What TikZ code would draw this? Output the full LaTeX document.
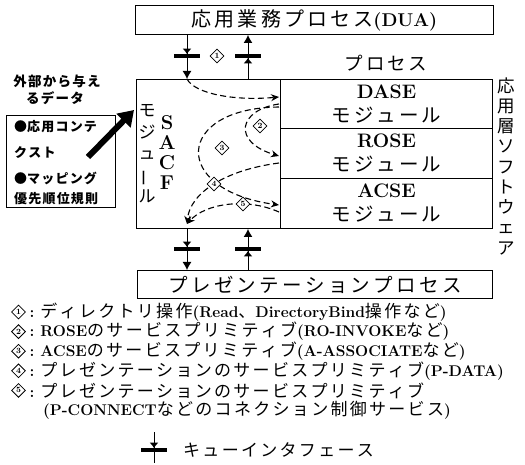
\documentclass[tikz,border=0pt]{standalone}
\usepackage{fontspec}
\usetikzlibrary{shapes.geometric,arrows.meta}
\newfontfamily\jpf{Noto Sans CJK JP}
% extra spacing between Japanese characters
\XeTeXinterchartokenstate=1
\newXeTeXintercharclass\cjkcls
\newcount\cjkcnt
\cjkcnt="3041\relax
\loop\ifnum\cjkcnt<"3100\relax \XeTeXcharclass\cjkcnt=\cjkcls\relax \advance\cjkcnt by 1\relax \repeat
\cjkcnt="4E00\relax
\loop\ifnum\cjkcnt<"A000\relax \XeTeXcharclass\cjkcnt=\cjkcls\relax \advance\cjkcnt by 1\relax \repeat
\newskip\cjkgap
\cjkgap=0pt\relax
\XeTeXinterchartoks\cjkcls\cjkcls={\hskip\cjkgap\relax}
\newcommand\lt[1]{{\normalfont\bfseries\fontsize{15.5}{20}\selectfont #1}}
\newcommand\lts[2]{{\normalfont\bfseries\fontsize{#1}{#1}\selectfont #2}}
\tikzset{
  box/.style={draw, line width=1pt, inner sep=0pt},
  flow/.style={line width=1.1pt, dash pattern=on 6pt off 3.5pt, -{Stealth[length=8pt,width=7pt]}},
  qline/.style={line width=1pt, -{Latex[length=8pt,width=9pt]}},
  qbar/.style={line width=3.8pt},
  qtip/.style={line width=1pt, -{Latex[length=5.5pt,width=9pt]}},
  tag/.style={diamond, draw, line width=0.8pt, fill=white, inner sep=0pt, minimum width=14pt, minimum height=14pt, font=\bfseries\fontsize{8}{8}\selectfont},
  gap/.style={execute at begin node={\global\cjkgap=#1\relax}},
  boxfont/.style={font=\jpf\fontsize{20}{24}\selectfont, gap=3.1pt},
  presfont/.style={font=\jpf\fontsize{19.5}{24}\selectfont, gap=3.3pt},
  modfont/.style={font=\jpf\fontsize{19.5}{24}\selectfont, gap=2.9pt, align=center},
  legfont/.style={font=\jpf\fontsize{17}{20}\selectfont, gap=2.3pt, inner sep=0pt, anchor=west},
  extfont/.style={font=\jpf\bfseries\fontsize{13.5}{16}\selectfont, gap=1.3pt, inner sep=0pt},
  ctxfont/.style={font=\jpf\bfseries\fontsize{13}{16}\selectfont, gap=1.2pt, inner sep=0pt, anchor=west}
}
\begin{document}
\begin{tikzpicture}[x=1pt,y=-1pt]
\useasboundingbox (0,0) rectangle (525,465);

% boxes
\node[box, boxfont, minimum width=358pt, minimum height=29pt, anchor=north west] (dua) at (135,5) {応用業務プロセス\lts{18.5}{(DUA)}};
\node[box, minimum width=144pt, minimum height=149pt, anchor=north west] (sacf) at (136,79) {};
\node[box, modfont, minimum width=212pt, minimum height=49pt, anchor=north west] (dase) at (280,79) {\lts{19.5}{DASE}\\モジュール};
\node[box, modfont, minimum width=212pt, minimum height=50pt, anchor=north west] (rose) at (280,128) {\lts{19.5}{ROSE}\\モジュール};
\node[box, modfont, minimum width=212pt, minimum height=50pt, anchor=north west] (acse) at (280,178) {\lts{19.5}{ACSE}\\モジュール};
\node[box, presfont, minimum width=355pt, minimum height=28pt, anchor=north west] (pres) at (137,270) {プレゼンテーションプロセス};

% labels around
\node[font=\jpf\fontsize{18.5}{20}\selectfont, gap=3pt, inner sep=0pt] (proc) at (386,63) {プロセス};
\node[font=\jpf\fontsize{17.5}{20.25}\selectfont, align=center, inner sep=0pt] (app) at (506,166) {応\\用\\層\\ソ\\フ\\ト\\ウ\\ェ\\ア};
\node[font=\jpf\fontsize{17}{21.5}\selectfont, align=center, inner sep=0pt] (sacfjp) at (147,154) {モ\\ジ\\ュ\\\rotatebox[origin=c]{90}{ー}\\ル};
\node[font=\bfseries\fontsize{20}{20}\selectfont, align=center, inner sep=0pt] (sacfl) at (167,153) {S\\A\\C\\F};

% external data
\node[extfont] (ext1) at (57,81) {外部から与え};
\node[extfont] (ext2) at (55,98) {るデータ};
\node[box, minimum width=109pt, minimum height=92pt, anchor=north west] (ctx) at (6,115) {};
\node[ctxfont] (e1) at (14,127) {●応用コンテ};
\node[ctxfont] (e2) at (14,153) {クスト};
\node[ctxfont] (e3) at (14,178) {●マッピング};
\node[ctxfont] (e4) at (14,199) {優先順位規則};
\coordinate (arT) at (88,157);
\coordinate (arH) at (134,110);
\draw[line width=6pt, -{Triangle[length=15pt,width=19pt]}] (arT) -- (arH);

% queue interfaces
\coordinate (qa) at (187,0);
\coordinate (qb) at (248,0);
\draw[qline] (dua.south -| qa) -- (sacf.north -| qa);
\draw[qbar] (174,56) -- (200,56);
\draw[qtip] (187,48) -- (187,54.1);
\draw[qline] (sacf.north -| qb) -- (dua.south -| qb);
\draw[qbar] (235,56) -- (261,56);
\draw[qtip] (248,64) -- (248,57.9);
\draw[qline] (sacf.south -| qa) -- (pres.north -| qa);
\draw[qbar] (174,249) -- (200,249);
\draw[qtip] (187,241) -- (187,247.1);
\draw[qline] (pres.north -| qb) -- (sacf.south -| qb);
\draw[qbar] (235,249) -- (261,249);
\draw[qtip] (248,257) -- (248,250.9);

% dashed flows
\coordinate (c1e) at (279,97);
\coordinate (c2s) at (279,104);
\coordinate (c3s) at (279,107);
\coordinate (c2e) at (279,156);
\coordinate (c4s) at (279,163);
\coordinate (c3e) at (279,205);
\coordinate (c5s) at (279,212);
\coordinate (c45e) at (187,224);
\draw[flow] (sacf.north -| qa) .. controls (195,94) and (235,101) .. (c1e);
\draw[flow] (c2s) .. controls (238,110) and (232,142) .. (c2e);
\draw[flow] (c3s) .. controls (175,108) and (170,190) .. (c3e);
\draw[flow] (c4s) .. controls (225,170) and (190,193) .. (c45e);
\draw[flow] (c5s) .. controls (245,197) and (205,204) .. (c45e);

\node[tag] (n1) at (217,56) {1};
\node[tag] (n2) at (260,126) {2};
\node[tag] (n3) at (222,148) {3};
\node[tag] (n4) at (214,184) {4};
\node[tag] (n5) at (243,204) {5};

% legend
\node[tag] (l1) at (18.5,312) {1};
\node[tag] (l2) at (18.5,331.6) {2};
\node[tag] (l3) at (18.5,351.2) {3};
\node[tag] (l4) at (18.5,370.8) {4};
\node[tag] (l5) at (18.5,390.4) {5};
\node[legfont] (t1) at (l1.east) {\lt{\hspace{3.5pt}:\hspace{6pt}}ディレクトリ操作\lt{(Read}、\lt{DirectoryBind}操作など\lt{)}};
\node[legfont] (t2) at (l2.east) {\lt{\hspace{3.5pt}:\hspace{6pt}ROSE}のサービスプリミティブ\lt{(RO-INVOKE}など\lt{)}};
\node[legfont] (t3) at (l3.east) {\lt{\hspace{3.5pt}:\hspace{6pt}ACSE}のサービスプリミティブ\lt{(A-ASSOCIATE}など\lt{)}};
\node[legfont] (t4) at (l4.east) {\lt{\hspace{3.5pt}:\hspace{6pt}}プレゼンテーションのサービスプリミティブ\lt{(P-DATA)}};
\node[legfont] (t5) at (l5.east) {\lt{\hspace{3.5pt}:\hspace{6pt}}プレゼンテーションのサービスプリミティブ};
\node[legfont] (t6) at (43,410) {\lt{(P-CONNECT}などのコネクション制御サービス\lt{)}};

\draw[line width=1pt] (154,432) -- (154,463);
\draw[qbar] (141,450) -- (167,450);
\draw[qtip] (154,442) -- (154,448.1);
\node[legfont] (kt) at (183,450) {キューインタフェース};
\end{tikzpicture}
\end{document}
